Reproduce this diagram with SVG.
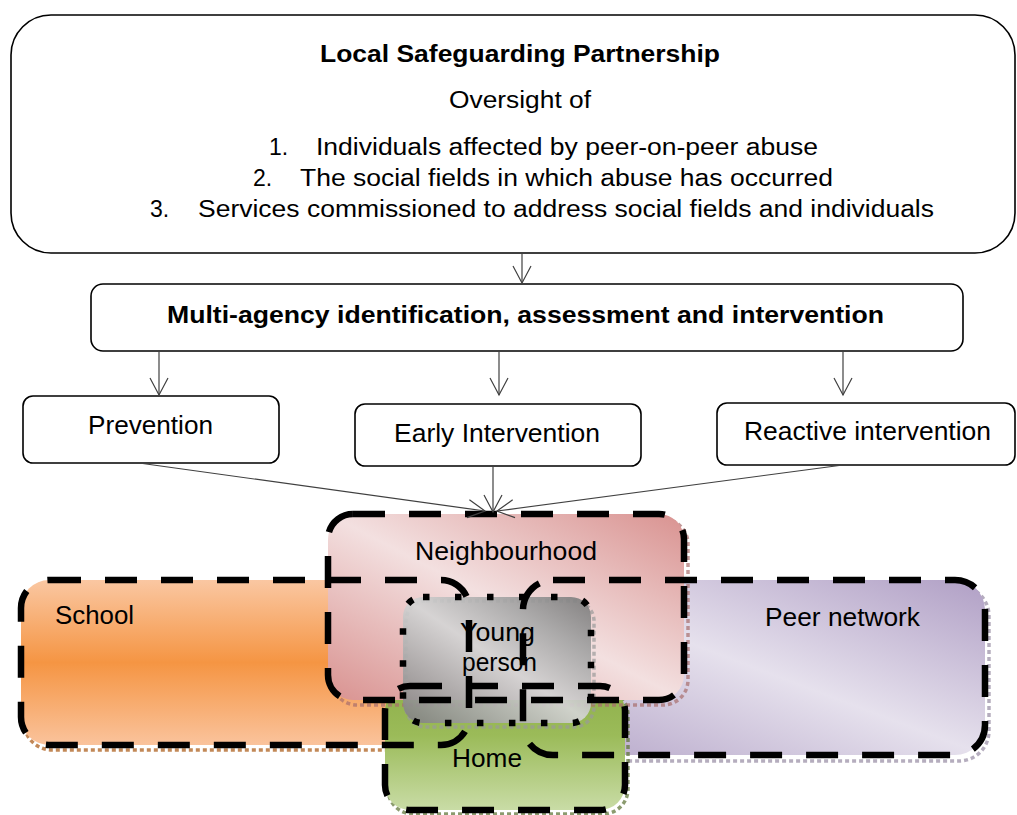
<svg xmlns="http://www.w3.org/2000/svg" width="1017" height="815" viewBox="0 0 1017 815">
<style>
text{font-family:"Liberation Sans",Arial,Helvetica,sans-serif;fill:#000}
.box{fill:#fff;stroke:#000;stroke-width:1.6}
.t23{font-size:23px}
.b{font-weight:bold}
.t26{font-size:26px}
.t25{font-size:25px}
.con{fill:none;stroke:#404040;stroke-width:1.2}
.dash{fill:none;stroke:#000;stroke-width:6.5;stroke-dasharray:32 24}
.dot{fill:none;stroke:#000;stroke-width:6.5;stroke-dasharray:6.5 25.5}
.shd{fill:none;stroke-width:3.5;stroke-dasharray:4 3;opacity:0.7}
</style>
<defs>
<marker id="arr" markerUnits="userSpaceOnUse" markerWidth="20" markerHeight="20" viewBox="0 0 20 20" refX="18" refY="10" orient="auto">
<path d="M1,1 L18,10 L1,19" fill="none" stroke="#404040" stroke-width="1.2"/>
</marker>
<linearGradient id="gSchool" x1="0" y1="0" x2="0" y2="1">
<stop offset="0" stop-color="#fac7a2"/><stop offset="0.5" stop-color="#f59543"/><stop offset="1" stop-color="#fac39c"/>
</linearGradient>
<linearGradient id="gNb" x1="1" y1="0" x2="0" y2="1">
<stop offset="0" stop-color="#d99290"/><stop offset="0.5" stop-color="#f3e0e0"/><stop offset="1" stop-color="#d99290"/>
</linearGradient>
<linearGradient id="gPeer" x1="1" y1="0" x2="0" y2="1">
<stop offset="0" stop-color="#b09fc5"/><stop offset="0.5" stop-color="#e6e1ed"/><stop offset="1" stop-color="#b3a3c7"/>
</linearGradient>
<linearGradient id="gYp" x1="1" y1="0" x2="0" y2="1">
<stop offset="0" stop-color="#7a7a7a"/><stop offset="0.5" stop-color="#d4d4d4"/><stop offset="1" stop-color="#7e7e7e"/>
</linearGradient>
<linearGradient id="gHome" x1="0" y1="0" x2="0" y2="1">
<stop offset="0" stop-color="#8fb04a"/><stop offset="0.4" stop-color="#9bbb59"/><stop offset="1" stop-color="#c9dca6"/>
</linearGradient>
</defs>

<g id="lsp">
<rect class="box" x="11" y="15" width="1004" height="238" rx="40"/>
<text class="t23 b" x="320" y="62" textLength="400" lengthAdjust="spacingAndGlyphs">Local Safeguarding Partnership</text>
<text class="t23" x="449" y="108" textLength="142" lengthAdjust="spacingAndGlyphs">Oversight of</text>
<text class="t23" x="269" y="155">1.</text>
<text class="t23" x="316" y="155" textLength="502" lengthAdjust="spacingAndGlyphs">Individuals affected by peer-on-peer abuse</text>
<text class="t23" x="253" y="186">2.</text>
<text class="t23" x="300" y="186" textLength="533" lengthAdjust="spacingAndGlyphs">The social fields in which abuse has occurred</text>
<text class="t23" x="150" y="217">3.</text>
<text class="t23" x="198" y="217" textLength="736" lengthAdjust="spacingAndGlyphs">Services commissioned to address social fields and individuals</text>
</g>

<g id="multi">
<rect class="box" x="91" y="284" width="872" height="67" rx="12"/>
<text class="t23 b" x="167" y="323" textLength="717" lengthAdjust="spacingAndGlyphs">Multi-agency identification, assessment and intervention</text>
</g>

<g id="prevention">
<rect class="box" x="23" y="396" width="256" height="67" rx="10"/>
<text class="t26" x="88" y="434" textLength="125" lengthAdjust="spacingAndGlyphs">Prevention</text>
</g>
<g id="early">
<rect class="box" x="355" y="404" width="286" height="62" rx="10"/>
<text class="t26" x="394" y="442" textLength="206" lengthAdjust="spacingAndGlyphs">Early Intervention</text>
</g>
<g id="reactive">
<rect class="box" x="717" y="403" width="298" height="62" rx="10"/>
<text class="t26" x="744" y="440" textLength="247" lengthAdjust="spacingAndGlyphs">Reactive intervention</text>
</g>

<g id="school">
<rect class="shd" x="24" y="585" width="448" height="165" rx="28" stroke="#a8550f"/>
<rect x="21" y="580" width="448" height="165" rx="28" fill="url(#gSchool)"/>
<text class="t26" x="55" y="624" textLength="79" lengthAdjust="spacingAndGlyphs">School</text>
</g>
<g id="peer">
<rect class="shd" x="527" y="586" width="462" height="175" rx="30" stroke="#958aa3"/>
<rect x="523" y="580" width="462" height="175" rx="30" fill="url(#gPeer)"/>
<text class="t26" x="765" y="626" textLength="155" lengthAdjust="spacingAndGlyphs">Peer network</text>
</g>
<g id="home">
<rect class="shd" x="388" y="690" width="240" height="124" rx="25" stroke="#5a7030"/>
<rect x="385" y="686" width="240" height="124" rx="25" fill="url(#gHome)"/>
<text class="t26" x="452" y="767" textLength="70" lengthAdjust="spacingAndGlyphs">Home</text>
</g>
<g id="neighbourhood">
<rect class="shd" x="332" y="519" width="356" height="186" rx="25" stroke="#a86e6c"/>
<rect x="328" y="514" width="356" height="186" rx="25" fill="url(#gNb)"/>
<text class="t26" x="415" y="560" textLength="182" lengthAdjust="spacingAndGlyphs">Neighbourhood</text>
</g>
<g id="young-person">
<rect class="shd" x="406" y="601" width="188" height="126" rx="20" stroke="#9a9a9a"/>
<rect x="403" y="597" width="188" height="126" rx="20" fill="url(#gYp)" opacity="0.92"/>
<text class="t25" x="460" y="641" textLength="75" lengthAdjust="spacingAndGlyphs">Young</text>
<text class="t25" x="462" y="671" textLength="75" lengthAdjust="spacingAndGlyphs">person</text>
</g>

<g id="outlines">
<rect class="dash" x="21" y="580" width="448" height="165" rx="28"/>
<rect class="dash" x="523" y="580" width="462" height="175" rx="30"/>
<rect class="dash" x="385" y="686" width="240" height="124" rx="25"/>
<rect class="dash" x="328" y="514" width="356" height="186" rx="25"/>
<rect class="dot" x="403" y="597" width="188" height="126" rx="20"/>
</g>

<g id="connectors">
<line class="con" x1="522" y1="254" x2="522" y2="283" marker-end="url(#arr)"/>
<line class="con" x1="159" y1="351" x2="159" y2="395" marker-end="url(#arr)"/>
<line class="con" x1="499" y1="351" x2="499" y2="395" marker-end="url(#arr)"/>
<line class="con" x1="843" y1="351" x2="843" y2="395" marker-end="url(#arr)"/>
<line class="con" x1="139" y1="463" x2="485" y2="511" marker-end="url(#arr)"/>
<line class="con" x1="493" y1="466" x2="493" y2="512" marker-end="url(#arr)"/>
<line class="con" x1="843" y1="465" x2="497" y2="511" marker-end="url(#arr)"/>
</g>
</svg>
